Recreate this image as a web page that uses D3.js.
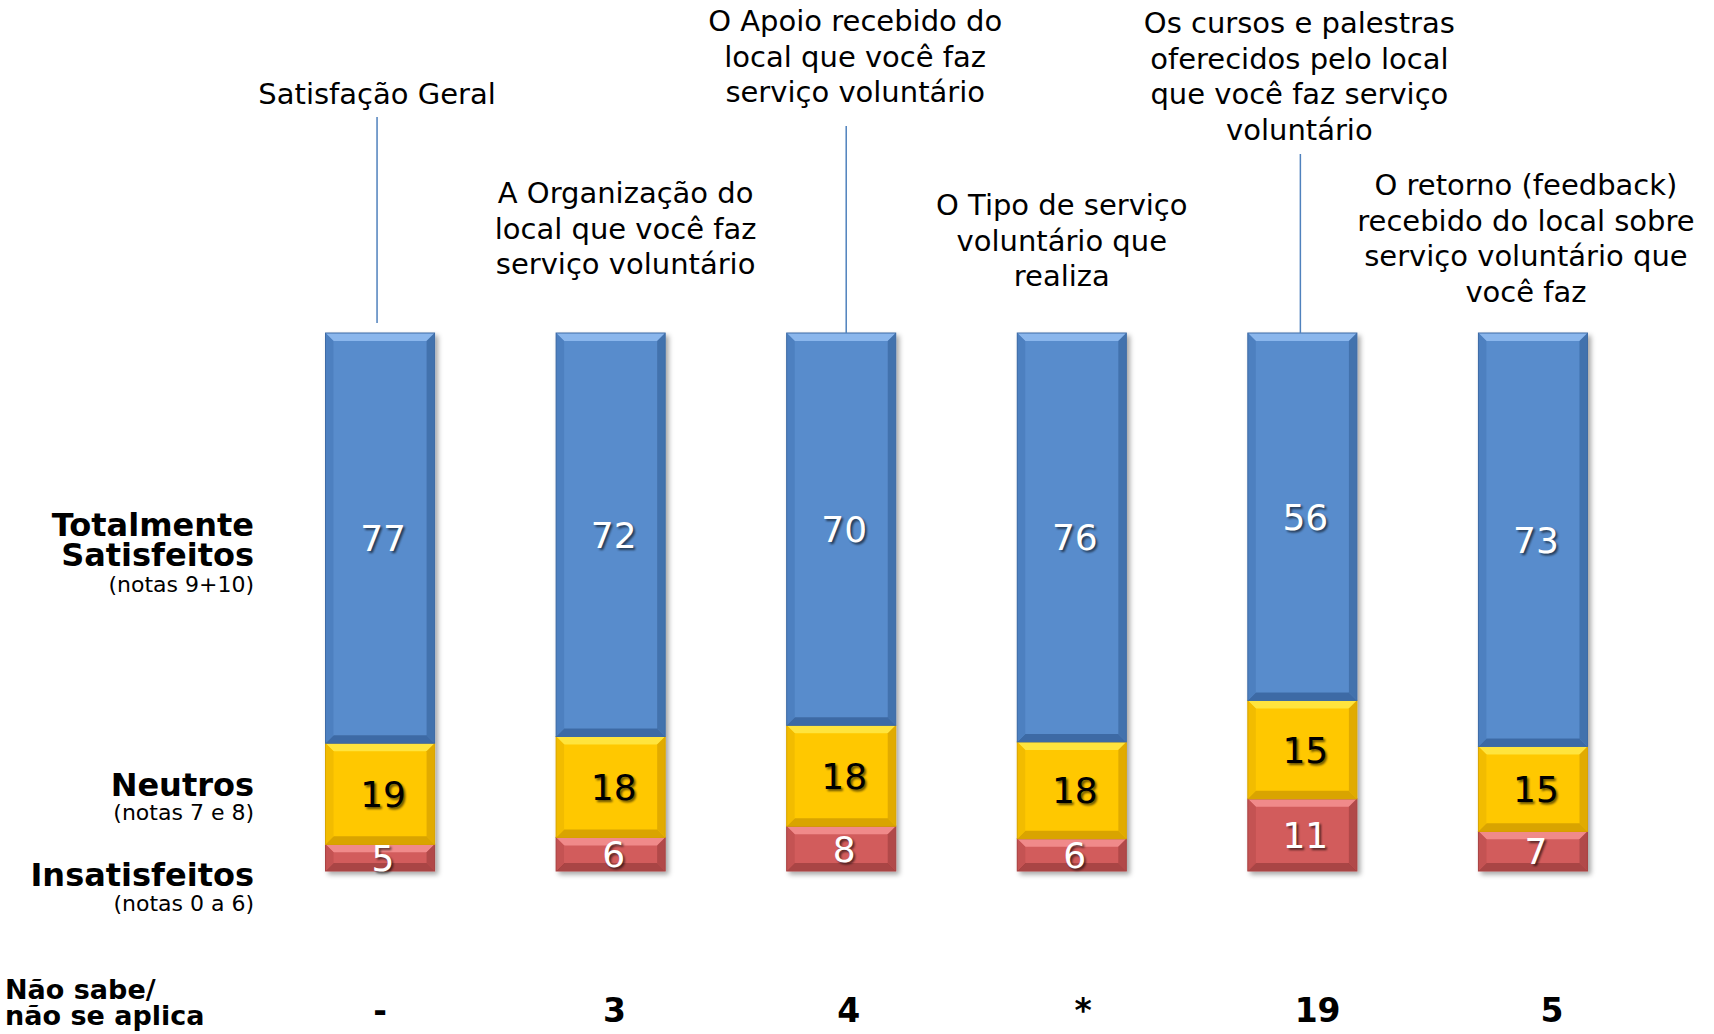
<!DOCTYPE html>
<html>
<head>
<meta charset="utf-8">
<script src="https://cdn.jsdelivr.net/npm/d3@7"></script>
<style>
  body { margin: 0; background: #fff; }
  text { font-family: "DejaVu Sans", Verdana, sans-serif; }
</style>
</head>
<body>
<svg id="chart" width="1714" height="1034"></svg>
<script>
// data
var categories = [
  "Satisfação Geral",
  "A Organização do\nlocal que você faz\nserviço voluntário",
  "O Apoio recebido do\nlocal que você faz\nserviço voluntário",
  "O Tipo de serviço\nvoluntário que\nrealiza",
  "Os cursos e palestras\noferecidos pelo local\nque você faz serviço\nvoluntário",
  "O retorno (feedback)\nrecebido do local sobre\nserviço voluntário que\nvocê faz"
];
var insatisfeitos = [5, 6, 8, 6, 11, 7];
var neutros = [19, 18, 18, 18, 15, 15];
var totalmente = [77, 72, 70, 76, 56, 73];
var naoSabe = ["-", "3", "4", "*", "19", "5"];

var svg = d3.select("#chart"),
    width = 1714,
    height = 1034;

var rows = categories.map(function(c, i) {
  return {cat: c, ins: insatisfeitos[i], neu: neutros[i], tot: totalmente[i]};
});

var keys = ["ins", "neu", "tot"];
var colors = {
  ins: {base: "#d25c5c", light: "#f08a8a", dark: "#a94444", side: "#c45252", text: "#fff"},
  neu: {base: "#ffc800", light: "#ffe43c", dark: "#d9a400", side: "#f2bc00", text: "#000"},
  tot: {base: "#588ccc", light: "#8ab6ec", dark: "#3e6ba5", side: "#4e80c0", text: "#fff"}
};

var stack = d3.stack().keys(keys).offset(d3.stackOffsetExpand);
var series = stack(rows);

var x = d3.scaleBand()
    .domain(categories)
    .range([204, 1709])
    .padding(0.527);

var y = d3.scaleLinear()
    .domain([0, 1])
    .range([871, 333]);

var xBottom = d3.scalePoint()
    .domain(categories)
    .range([380, 1552]);

var defs = svg.append("defs");
var shadow = defs.append("filter").attr("id", "barShadow")
    .attr("x", "-20%").attr("y", "-5%").attr("width", "150%").attr("height", "115%");
shadow.append("feDropShadow")
    .attr("dx", 3).attr("dy", 3).attr("stdDeviation", 2.5)
    .attr("flood-color", "#000").attr("flood-opacity", 0.35);

var txtShadow = defs.append("filter").attr("id", "txtShadow")
    .attr("x", "-30%").attr("y", "-30%").attr("width", "160%").attr("height", "160%");
txtShadow.append("feGaussianBlur").attr("stdDeviation", 1.2);

// bars (one group per category so the shadow wraps the whole column)
var bw = x.bandwidth(), bev = 8;

var cols = svg.append("g").selectAll("g")
  .data(categories)
  .join("g")
    .attr("filter", "url(#barShadow)");

cols.each(function(cat, i) {
  var g = d3.select(this);
  series.forEach(function(s) {
    var d = s[i], c = colors[s.key];
    var x0 = x(cat), x1 = x0 + bw, yt = y(d[1]), yb = y(d[0]);
    var b = Math.min(bev, (yb - yt) / 2);
    g.append("rect")
        .attr("x", x0).attr("y", yt).attr("width", bw).attr("height", yb - yt)
        .attr("fill", c.base);
    // bevel edges
    g.append("path")
        .attr("d", "M" + x0 + "," + yt + "L" + x1 + "," + yt + "L" + (x1 - b) + "," + (yt + b) + "L" + (x0 + b) + "," + (yt + b) + "Z")
        .attr("fill", c.light);
    g.append("path")
        .attr("d", "M" + x0 + "," + yb + "L" + x1 + "," + yb + "L" + (x1 - b) + "," + (yb - b) + "L" + (x0 + b) + "," + (yb - b) + "Z")
        .attr("fill", c.dark);
    g.append("path")
        .attr("d", "M" + x0 + "," + yt + "L" + (x0 + b) + "," + (yt + b) + "L" + (x0 + b) + "," + (yb - b) + "L" + x0 + "," + yb + "Z")
        .attr("fill", c.side);
    g.append("path")
        .attr("d", "M" + x1 + "," + yt + "L" + (x1 - b) + "," + (yt + b) + "L" + (x1 - b) + "," + (yb - b) + "L" + x1 + "," + yb + "Z")
        .attr("fill", c.dark).attr("opacity", 0.8);
    g.append("rect")
        .attr("x", x0).attr("y", yt).attr("width", bw).attr("height", yb - yt)
        .attr("fill", "none").attr("stroke", c.dark).attr("stroke-width", 1);
  });
});

// segment values
series.forEach(function(s) {
  var c = colors[s.key];
  var lab = svg.append("g").selectAll("g")
    .data(s)
    .join("g")
      .attr("transform", function(d) {
        return "translate(" + (x(d.data.cat) + bw / 2 + 3) + "," + ((y(d[0]) + y(d[1])) / 2) + ")";
      });
  lab.append("text")
      .attr("x", 2).attr("y", 2)
      .attr("dy", "0.36em")
      .attr("text-anchor", "middle")
      .attr("font-size", 36)
      .attr("fill", "#000").attr("opacity", 0.6)
      .attr("filter", "url(#txtShadow)")
      .text(function(d) { return d.data[s.key]; });
  lab.append("text")
      .attr("dy", "0.36em")
      .attr("text-anchor", "middle")
      .attr("font-size", 36)
      .attr("fill", c.text)
      .text(function(d) { return d.data[s.key]; });
});

// category titles above the bars
var titleLayout = [
  {dx: -3, top: 104, line: [117, 323], ldx: -3},
  {dx: 15, top: 203},
  {dx: 14, top: 31, line: [126, 333], ldx: 5},
  {dx: -10, top: 215},
  {dx: -3, top: 33, line: [154, 333], ldx: -2},
  {dx: -7, top: 195}
];

categories.forEach(function(cat, i) {
  var L = titleLayout[i], cx = x(cat) + bw / 2 + L.dx;
  var t = svg.append("text")
      .attr("text-anchor", "middle")
      .attr("font-size", 29)
      .attr("fill", "#000");
  cat.split("\n").forEach(function(line, j) {
    t.append("tspan").attr("x", cx).attr("y", L.top + j * 35.5).text(line);
  });
  if (L.line) {
    svg.append("line")
        .attr("x1", x(cat) + bw / 2 + L.ldx).attr("x2", x(cat) + bw / 2 + L.ldx)
        .attr("y1", L.line[0]).attr("y2", L.line[1])
        .attr("stroke", "#4f81bd").attr("stroke-width", 1.5);
  }
});

// row labels on the left
var rowLabels = [
  {lines: ["Totalmente", "Satisfeitos"], sub: "(notas 9+10)", ys: [536, 566], subY: 592},
  {lines: ["Neutros"], sub: "(notas 7 e 8)", ys: [796], subY: 820},
  {lines: ["Insatisfeitos"], sub: "(notas 0 a 6)", ys: [886], subY: 911}
];

rowLabels.forEach(function(r) {
  r.lines.forEach(function(l, j) {
    svg.append("text")
        .attr("x", 254).attr("y", r.ys[j])
        .attr("text-anchor", "end")
        .attr("font-size", 32).attr("font-weight", "bold")
        .text(l);
  });
  svg.append("text")
      .attr("x", 254).attr("y", r.subY)
      .attr("text-anchor", "end")
      .attr("font-size", 22)
      .text(r.sub);
});

// "Não sabe" row
svg.append("text").attr("x", 5).attr("y", 999)
    .attr("font-size", 27).attr("font-weight", "bold").text("Não sabe/");
svg.append("text").attr("x", 5).attr("y", 1025)
    .attr("font-size", 27).attr("font-weight", "bold").text("não se aplica");

svg.append("g").selectAll("text")
  .data(categories)
  .join("text")
    .attr("x", function(d) { return xBottom(d); })
    .attr("y", 1022)
    .attr("text-anchor", "middle")
    .attr("font-size", 33).attr("font-weight", "bold")
    .text(function(d, i) { return naoSabe[i]; });
</script>
</body>
</html>
